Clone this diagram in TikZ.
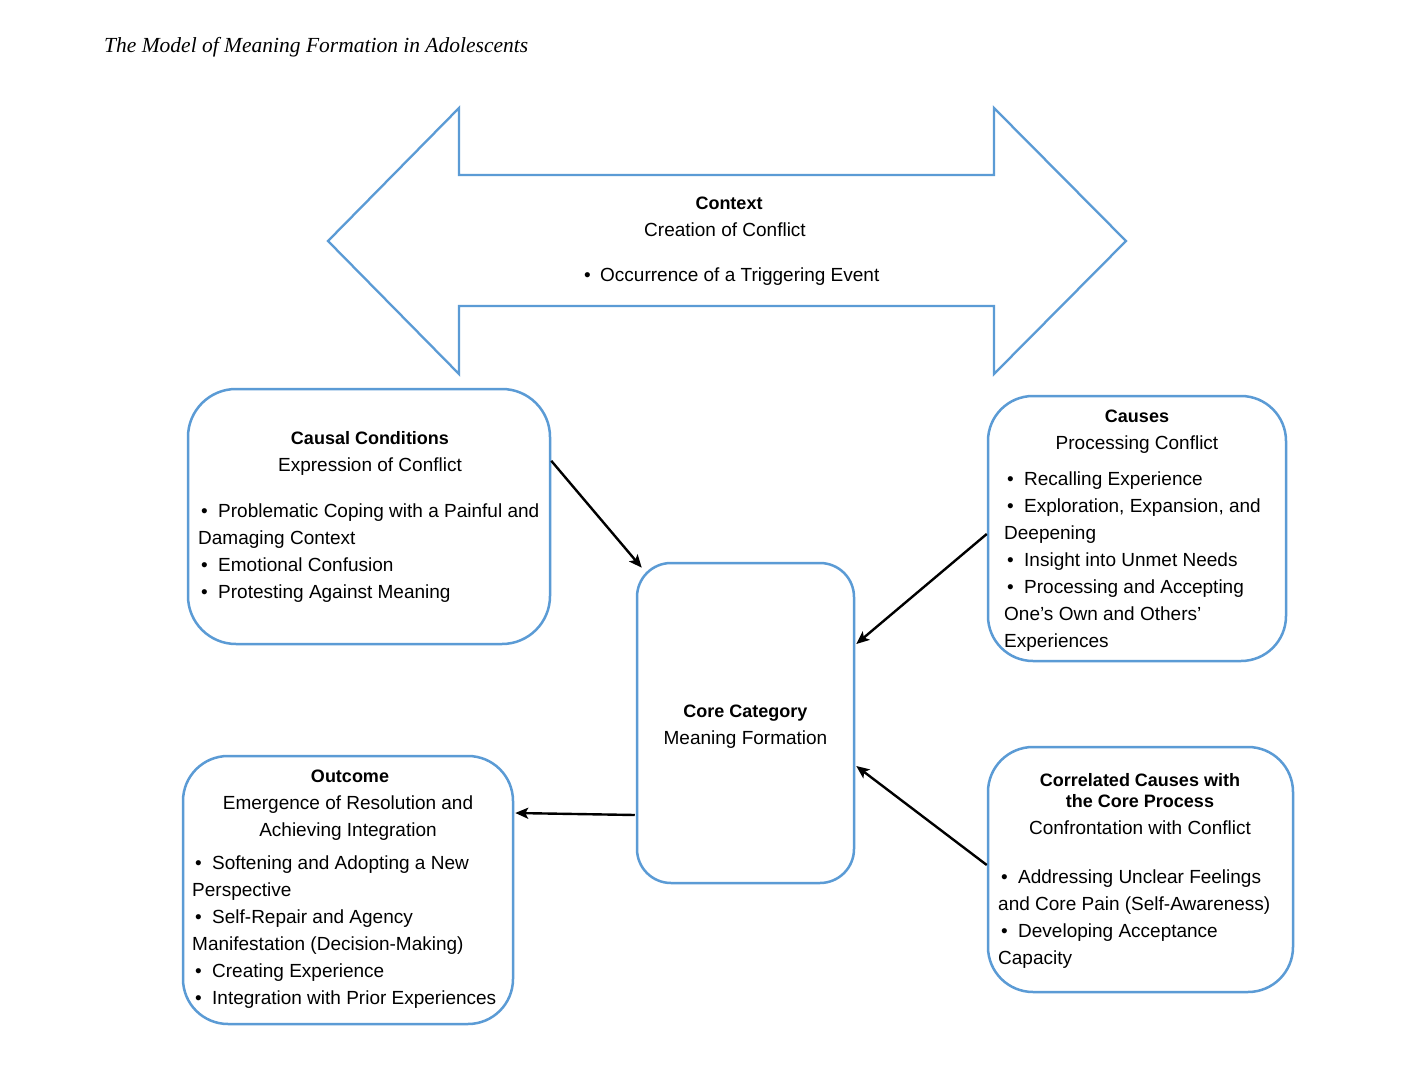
\documentclass[tikz,border=0pt]{standalone}
\usepackage{fontspec}
\setmainfont{Liberation Sans}
\newfontfamily\titlefont{Liberation Serif}
\usetikzlibrary{arrows.meta,calc}
\definecolor{boxblue}{RGB}{91,155,213}
\newcommand{\mybul}{\makebox[20pt][l]{\hspace{3pt}•}}
\newcommand{\mybulc}{\makebox[17pt][l]{\hspace{1pt}•}}
\begin{document}
\begin{tikzpicture}[x=1pt,y=-1pt,
  box/.style={draw=boxblue,line width=2.5pt,inner sep=0pt,fill=white},
  txt/.style={font=\fontsize{19}{27}\selectfont,inner sep=0pt},
  hd/.style={font=\fontsize{18}{21}\selectfont\bfseries,inner sep=0pt},
  arr/.style={-{Stealth[length=13pt,width=11pt,inset=3pt]},line width=2.4pt,black},
  ctxshape/.style={draw=boxblue,line width=2.3pt,line join=miter}]
\useasboundingbox[fill=white] (0,0) rectangle (1417,1086);
% title
\node[anchor=base west,inner sep=0pt,font=\titlefont\itshape\fontsize{21.5}{24}\selectfont] (title) at (104,53) {The Model of Meaning Formation in Adolescents};
% context double arrow
\draw[ctxshape] (328,241) -- (459,108) -- (459,175) -- (994,175) -- (994,108) -- (1126,241) -- (994,374) -- (994,306) -- (459,306) -- (459,374) -- cycle;
\node[hd,anchor=base] (ctxh) at (729,210) {Context};
\node[txt,anchor=base] (ctxs) at (725,237) {Creation of Conflict};
\node[txt,anchor=base west] (ctxb) at (583,282) {\mybulc Occurrence of a Triggering Event};
% boxes
\node[box,rounded corners=48pt,minimum width=362pt,minimum height=255pt] (cc) at (369,516.5) {};
\node[box,rounded corners=45pt,minimum width=298pt,minimum height=265pt] (cs) at (1137,528.5) {};
\node[box,rounded corners=34pt,minimum width=217pt,minimum height=320pt] (core) at (745.5,723) {};
\node[box,rounded corners=45pt,minimum width=330pt,minimum height=268pt] (oc) at (348,890) {};
\node[box,rounded corners=45pt,minimum width=305pt,minimum height=245pt] (cr) at (1140.5,869.5) {};
% causal conditions
\node[hd,anchor=base] (cch) at (370,444) {Causal Conditions};
\node[txt,anchor=base] (ccs) at (370,471) {Expression of Conflict};
\node[txt,anchor=base west,align=left] (ccb) at (198,598) {\mybul Problematic Coping with a Painful and\\Damaging Context\\\mybul Emotional Confusion\\\mybul Protesting Against Meaning};
% causes
\node[hd,anchor=base] (csh) at (1137,422) {Causes};
\node[txt,anchor=base] (css) at (1137,449) {Processing Conflict};
\node[txt,anchor=base west,align=left] (csb) at (1004,647) {\mybul Recalling Experience\\\mybul Exploration, Expansion, and\\Deepening\\\mybul Insight into Unmet Needs\\\mybul Processing and Accepting\\One’s Own and Others’\\Experiences};
% core
\node[hd,anchor=base] (coreh) at (745.5,717) {Core Category};
\node[txt,anchor=base] (cores) at (745.5,744) {Meaning Formation};
% outcome
\node[hd,anchor=base] (och) at (350,782) {Outcome};
\node[txt,anchor=base,align=center] (ocs) at (348,836) {Emergence of Resolution and\\Achieving Integration};
\node[txt,anchor=base west,align=left] (ocb) at (192,1004) {\mybul Softening and Adopting a New\\Perspective\\\mybul Self-Repair and Agency\\Manifestation (Decision-Making)\\\mybul Creating Experience\\\mybul Integration with Prior Experiences};
% correlated
\node[hd,anchor=base,align=center] (crh) at (1140,807) {Correlated Causes with\\the Core Process};
\node[txt,anchor=base] (crs) at (1140,834) {Confrontation with Conflict};
\node[txt,anchor=base west,align=left] (crb) at (998,964) {\mybul Addressing Unclear Feelings\\and Core Pain (Self-Awareness)\\\mybul Developing Acceptance\\Capacity};
% connectors
\draw[arr] (cc.17) -- ($(core.north west)+(6,6)$);
\draw[arr] ($(cs.west)+(0,5.5)$) -- ($(core.east)+(1,-79)$);
\draw[arr] ($(cr.west)+(0,-4.5)$) -- ($(core.east)+(1,43)$);
\draw[arr] ($(core.west)+(-1,92)$) -- ($(oc.east)+(1,-77)$);
\end{tikzpicture}
\end{document}
